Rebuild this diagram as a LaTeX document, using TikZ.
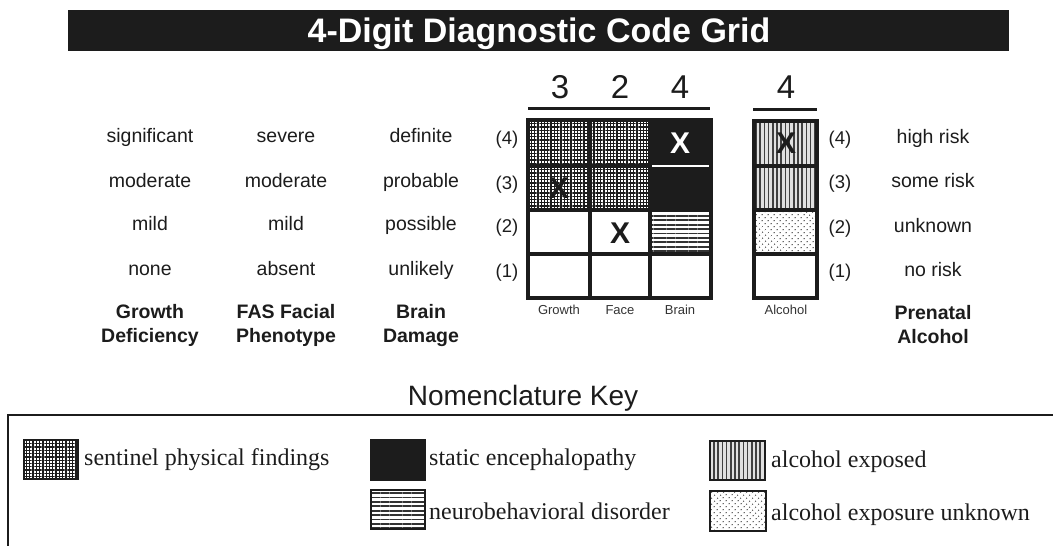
\documentclass[tikz,border=0pt]{standalone}
\usepackage{fontspec}
\setmainfont{Liberation Sans}
\newfontfamily\keyfont{Liberation Serif}
\usetikzlibrary{patterns.meta}
\definecolor{ink}{HTML}{1C1C1C}

\tikzset{
  every node/.style={inner sep=0pt, text=ink},
  lvl/.style={anchor=base, font=\fontsize{19.5}{22}\selectfont},
  head/.style={anchor=base, align=center, font=\bfseries\fontsize{19.5}{24}\selectfont},
  grade/.style={anchor=base, font=\fontsize{18.5}{22}\selectfont},
  digit/.style={anchor=base, font=\fontsize{33}{36}\selectfont},
  colname/.style={anchor=base, font=\fontsize{13}{15}\selectfont, text=black!80},
  xsign/.style={font=\bfseries\fontsize{30}{32}\selectfont},
  keytext/.style={anchor=base west, font=\keyfont\fontsize{24}{26}\selectfont},
  gridline/.style={draw=ink, line width=3.2pt},
  swatch/.style={draw=ink, line width=2.6pt},
  sentinel/.style={pattern={Hatch[angle=0,distance=3.3pt,line width=1.25pt]}, pattern color=ink},
  static/.style={fill=ink},
  neuro/.style={pattern={Lines[angle=0,distance=4.4pt,line width=1.8pt]}, pattern color=black!80},
  exposed/.style={pattern={Lines[angle=90,distance=4.2pt,line width=1.7pt]}, pattern color=black!75},
  unknownexp/.style={pattern={Dots[angle=45,distance=4pt,radius=0.8pt]}, pattern color=black!65},
}

\begin{document}
\begin{tikzpicture}[x=1pt,y=-1pt]
\useasboundingbox (0,0) rectangle (1053,546);

% title bar
\fill[ink] (68,10) rectangle (1009,51);
\node[anchor=base, text=white, font=\bfseries\fontsize{34}{36}\selectfont] (title) at (539,42) {4-Digit Diagnostic Code Grid};

% level descriptions on the left
\foreach \y/\g/\f/\b/\n in {142/significant/severe/definite/4, 187/moderate/moderate/probable/3, 230/mild/mild/possible/2, 275/none/absent/unlikely/1}{
  \node[lvl] (g\n) at (150,\y) {\g};
  \node[lvl] (f\n) at (286,\y) {\f};
  \node[lvl] (b\n) at (421,\y) {\b};
  \node[grade] (n\n) at (507,\y+2) {(\n)};
}
\node[head] (hG) at (150,342) {Growth\\Deficiency};
\node[head] (hF) at (286,342) {FAS Facial\\Phenotype};
\node[head] (hB) at (421,342) {Brain\\Damage};

% risk descriptions on the right
\foreach \y/\r/\n in {143/high risk/4, 187/some risk/3, 232/unknown/2, 276/no risk/1}{
  \node[grade] (a\n) at (840,\y+1) {(\n)};
  \node[lvl] (r\n) at (933,\y) {\r};
}
\node[head] (hP) at (933,343) {Prenatal\\Alcohol};

% code digits and their rules
\node[digit] (dG) at (560,98) {3};
\node[digit] (dF) at (620,98) {2};
\node[digit] (dB) at (680,98) {4};
\node[digit] (dA) at (786,98) {4};
\draw[ink, line width=3pt] (528,108) -- (710,108);
\draw[ink, line width=3pt] (753,109) -- (817,109);

% grid cell fills
\path[sentinel] (528,120) rectangle (650,210);
\path[static] (650,120) rectangle (711,210);
\path[neuro] (650,210) rectangle (711,254);
\path[fill=black!12] (754,121) rectangle (817,210);
\path[exposed] (754,121) rectangle (817,210);
\path[unknownexp] (754,210) rectangle (817,254);

% grid lines
\draw[gridline] (528,120) rectangle (711,298);
\draw[gridline] (590,120) -- (590,298) (650,120) -- (650,298);
\draw[gridline] (528,166) -- (650,166) (528,210) -- (711,210) (528,254) -- (711,254);
\draw[white, line width=2.6pt] (652,166) -- (709,166);
\draw[gridline] (754,121) rectangle (817,298);
\draw[gridline] (754,166) -- (817,166) (754,210) -- (817,210) (754,254) -- (817,254);

% column names
\node[colname] (cG) at (559,314) {Growth};
\node[colname] (cF) at (620,314) {Face};
\node[colname] (cB) at (680,314) {Brain};
\node[colname] (cA) at (786,314) {Alcohol};

% selected ranks
\node[xsign] (xG) at (559,188) {X};
\node[xsign] (xF) at (620,233) {X};
\node[xsign, text=white] (xB) at (680,143) {X};
\node[xsign] (xA) at (786,143) {X};

% nomenclature key
\node[anchor=base, font=\fontsize{28}{32}\selectfont] (keytitle) at (523,405) {Nomenclature Key};
\draw[ink, line width=2.2pt] (8,546) -- (8,415) -- (1053,415);

\path[sentinel] (24,440) rectangle (78,479);
\draw[swatch] (24,440) rectangle (78,479);
\node[keytext] (kS) at (84,465) {sentinel physical findings};

\path[static] (371,440) rectangle (425,480);
\draw[swatch] (371,440) rectangle (425,480);
\node[keytext] (kE) at (429,465) {static encephalopathy};

\path[neuro] (371,490) rectangle (425,529);
\draw[swatch] (371,490) rectangle (425,529);
\node[keytext] (kN) at (429,519) {neurobehavioral disorder};

\path[fill=black!12] (710,441) rectangle (765,480);
\path[exposed] (710,441) rectangle (765,480);
\draw[swatch] (710,441) rectangle (765,480);
\node[keytext] (kA) at (771,467) {alcohol exposed};

\path[unknownexp] (710,491) rectangle (766,531);
\draw[swatch] (710,491) rectangle (766,531);
\node[keytext] (kU) at (771,520) {alcohol exposure unknown};
\end{tikzpicture}
\end{document}
